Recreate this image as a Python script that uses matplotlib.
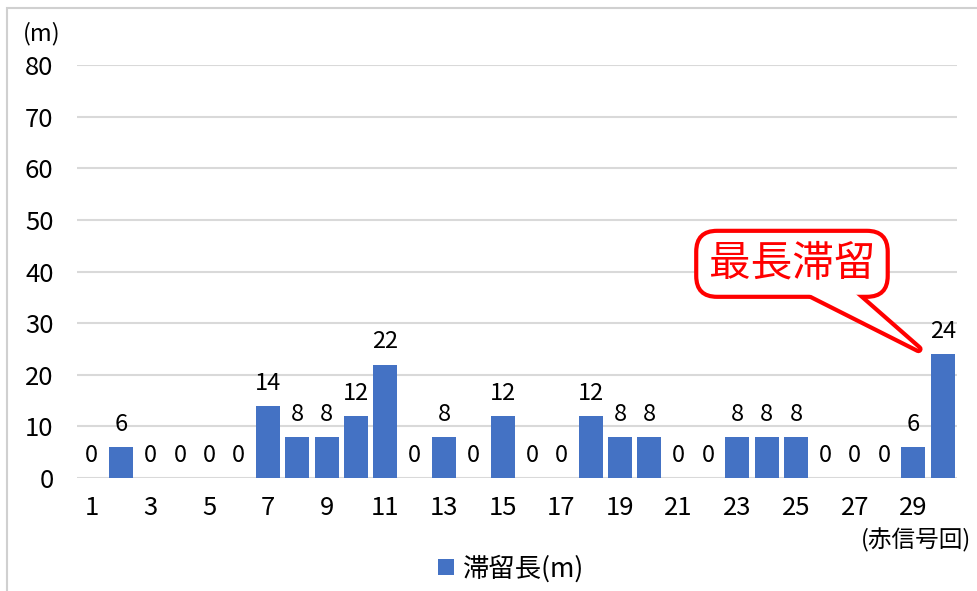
import numpy as np
import matplotlib
matplotlib.use('Agg')
import matplotlib.pyplot as plt
from matplotlib.patches import Rectangle, Polygon

plt.rcParams['font.family'] = ['Noto Sans CJK JP', 'DejaVu Sans']

# Data
cycles = list(range(1, 31))
lengths = [0, 6, 0, 0, 0, 0, 14, 8, 8, 12, 22, 0, 8, 0, 12,
           0, 0, 12, 8, 8, 0, 0, 8, 8, 8, 0, 0, 0, 6, 24]
yticks = [0, 10, 20, 30, 40, 50, 60, 70, 80]
xtick_labels = [str(c) for c in cycles[::2]]
series_name = '滞留長(m)'
callout_text = '最長滞留'

bar_color = '#4472C4'
grid_color = '#d9d9d9'
red = '#ff0000'

fig = plt.figure(figsize=(9.77, 5.91), dpi=100)
ax = fig.add_axes([0.079, 0.191, 0.901, 0.699])

# outer frame
fig.patches.append(Rectangle((0.007, -0.01), 1.1, 0.997, transform=fig.transFigure,
                             fill=False, ec='#d0d0d0', lw=1.5))

x = np.arange(len(cycles))
bars = ax.bar(x, lengths, width=0.82, color=bar_color, zorder=3, label=series_name)
ax.bar_label(bars, labels=[str(v) for v in lengths], padding=8, fontsize=17)

ax.set_xlim(-0.5, len(cycles) - 0.5)
ax.set_ylim(0, 80)
ax.set_yticks(yticks)
ax.set_xticks(x[::2])
ax.set_xticklabels(xtick_labels)
ax.tick_params(axis='both', length=0, labelsize=18.5)
ax.tick_params(axis='y', pad=17)
ax.tick_params(axis='x', pad=12)
ax.grid(axis='y', color=grid_color, lw=1.5, zorder=0)
for s in ax.spines.values():
    s.set_visible(False)

fig.text(0.043, 0.944, '(m)', fontsize=17, ha='center', va='center')
fig.text(0.938, 0.086, '(赤信号回)', fontsize=17, ha='center', va='center')

leg = fig.legend(loc='center', bbox_to_anchor=(0.523, 0.038), frameon=False,
                 fontsize=19, handlelength=0.6, handleheight=0.6, handletextpad=0.35)

# callout box + tail pointing at the longest queue
imax = int(np.argmax(lengths))
tip = (x[imax] - 0.83, lengths[imax] + 1.0)
tail = [(x[imax] - 4.6, 35.8), tip, (x[imax] - 3.0, 35.8)]
ax.add_patch(Polygon(tail, closed=True, fc='white', ec=red, lw=6,
                     joinstyle='round', zorder=5, clip_on=False))
ax.text(x[imax] - 5.14, 41.5, callout_text, fontsize=30, color=red,
        ha='center', va='center', zorder=6,
        bbox=dict(boxstyle='round,pad=0.3,rounding_size=0.5', fc='white', ec=red, lw=3))
ax.add_patch(Polygon(tail, closed=True, fc='white', ec='none', zorder=7, clip_on=False))

fig.savefig('out.png', dpi=100)
